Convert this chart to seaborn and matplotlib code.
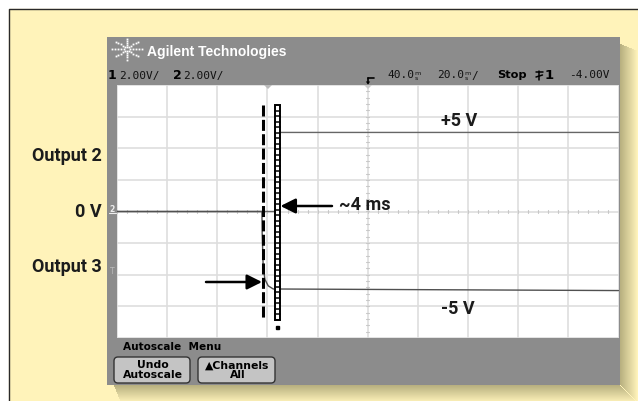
import numpy as np
import pandas as pd
import matplotlib
matplotlib.use("Agg")
import matplotlib.pyplot as plt
import seaborn as sns
from matplotlib.patches import Rectangle, FancyBboxPatch, Polygon

ch1_time_ms = [-60.0, 3.3, 4.9, 140.0]          # Output 2
ch1_volts = [0.0, 0.0, 5.0, 5.0]
ch2_time_ms = [-60.0, -2.2, -2.1, -1.7, -1.0, 0.3, 2.3, 140.0]   # Output 3
ch2_volts = [0.0, 0.0, -1.4, -3.5, -4.3, -4.7, -4.9, -5.0]

time_per_div_ms = 20.0
time_delay_ms = 40.0
volts_per_div = 2.0

side_labels = ["Output 2", "0 V", "Output 3"]
level_labels = ["+5 V", "-5 V"]
delta_label = "~4 ms"

# ---------------- style ----------------
sns.set_style("white")
plt.rcParams["font.family"] = ["DejaVu Sans"]
LABEL_FONT = ["Roboto", "DejaVu Sans"]
MONO = ["DejaVu Sans Mono"]

W, H = 638, 401
fig = plt.figure(figsize=(W / 100, H / 100), dpi=100)

CREAM = "#FFF3BA"
PANEL = "#8C8C8C"

# background axes in pixel coordinates
bg = fig.add_axes([0, 0, 1, 1], zorder=0)
bg.set_xlim(0, W)
bg.set_ylim(H, 0)
bg.axis("off")
bg.add_patch(Rectangle((0, 0), W, H, color="white"))
bg.add_patch(Rectangle((9, 8.5), W - 9, H - 8.5, color=CREAM))
bg.plot([9, 9, W], [H, 8.5, 8.5], color="#2a2a2a", lw=1.0)

# drop shadow (right and bottom)
sh_dark = np.array([0.72, 0.69, 0.50])
sh_light = np.array(matplotlib.colors.to_rgb(CREAM))
n = 18
for i in range(n):
    f = i / (n - 1)
    c = sh_dark * (1 - f) + sh_light * f
    bg.add_patch(Rectangle((620 + i, 44 + i * 0.4), 1.05, 385 - 44 + i * 0.6, color=c, lw=0))
    bg.add_patch(Rectangle((114 + i * 0.4, 385 + i), 620 - 114 + i * 0.6, 1.05, color=c, lw=0))

# scope panel
bg.add_patch(Rectangle((107, 37), 620 - 107, 385 - 37, color=PANEL, lw=0))

# Agilent spark logo
cx, cy = 127, 49
for ang in np.arange(0, 360, 45):
    a = np.deg2rad(ang)
    rx, ry = 15, 10.5
    for r in np.linspace(0.22, 1.0, 5):
        bg.plot(cx + rx * r * np.cos(a), cy + ry * r * np.sin(a), "s", ms=1.3, color="white", mew=0)
bg.text(147, 52, "Agilent Technologies", color="white", fontsize=10.0, fontweight="bold",
        va="center", ha="left", family=["Liberation Sans", "DejaVu Sans"])

# status line
row_y = 75.5
fs = 8.0
txt_c = "#111111"
bg.text(108, row_y, "1", fontsize=9, fontweight="bold", va="center", color="black")
bg.text(119, row_y, "2.00V/", fontsize=fs, va="center", color=txt_c, family=MONO)
bg.text(173, row_y, "2", fontsize=9, fontweight="bold", va="center", color="black")
bg.text(183, row_y, "2.00V/", fontsize=fs, va="center", color=txt_c, family=MONO)
# delay marker glyph
bg.plot([368, 374], [78.3, 78.3], color="black", lw=1.2)
bg.plot([368, 368], [78.3, 83], color="black", lw=1.2)
bg.add_patch(Polygon([[365.8, 81.5], [370.2, 81.5], [368, 84.5]], color="black", lw=0))
bg.text(387, row_y, "40.0", fontsize=fs, va="center", color=txt_c, family=MONO)
bg.text(414, row_y - 2.3, "m", fontsize=4.6, va="center", color=txt_c)
bg.text(415, row_y + 2.6, "s", fontsize=4.6, va="center", color=txt_c)
bg.text(437, row_y, "20.0", fontsize=fs, va="center", color=txt_c, family=MONO)
bg.text(464, row_y - 2.3, "m", fontsize=4.6, va="center", color=txt_c)
bg.text(465, row_y + 2.6, "s", fontsize=4.6, va="center", color=txt_c)
bg.text(471, row_y, "/", fontsize=fs, va="center", color=txt_c, family=MONO)
bg.text(497, row_y, "Stop", fontsize=8.2, fontweight="bold", va="center", color="black")
# trigger slope glyph
bg.plot([539, 539], [71, 80], color="black", lw=1.1)
bg.plot([536, 542.5], [71.5, 71.5], color="black", lw=1.1)
bg.plot([536, 542.5], [77, 75], color="black", lw=1.1)
bg.text(545, row_y, "1", fontsize=9.5, fontweight="bold", va="center", color="black")
bg.text(569, row_y, "-4.00V", fontsize=fs, va="center", color=txt_c, family=MONO)

# soft-key labels and buttons
bg.text(123, 346.5, "Autoscale  Menu", fontsize=7.6, fontweight="bold", va="center", color="black")
for (x0, x1), txt in zip([(113, 191), (197, 276)], ["Undo\nAutoscale", "\u25B2Channels\nAll"]):
    bg.add_patch(FancyBboxPatch((x0 + 1, 357), x1 - x0 - 2, 26, boxstyle="round,pad=0,rounding_size=4",
                                fc="#C4C4C4", ec="#333333", lw=1.0))
    bg.text((x0 + x1) / 2 + 1, 370, txt, fontsize=7.8, fontweight="bold", ha="center", va="center",
            color="black", linespacing=0.95)

# ground / trigger level markers on the left of the graticule
bg.text(112.5, 209, "2", fontsize=5.5, color="#EEEEEE", ha="center", va="center", fontweight="bold")
bg.plot([109, 116], [213, 213], color="#EEEEEE", lw=0.8)
bg.text(112.5, 271, "T", fontsize=5.5, color="#BBBBBB", ha="center", va="center")

# ---------------- graticule + traces (seaborn) ----------------
gx0, gx1, gy0, gy1 = 117, 618.5, 85, 338
ax = fig.add_axes([gx0 / W, 1 - gy1 / H, (gx1 - gx0) / W, (gy1 - gy0) / H], zorder=1)
ax.set_facecolor("white")
t_lo = time_delay_ms - 5 * time_per_div_ms
t_hi = time_delay_ms + 5 * time_per_div_ms
v_lo, v_hi = -4 * volts_per_div, 4 * volts_per_div
ax.set_xlim(t_lo, t_hi)
ax.set_ylim(v_lo, v_hi)
for s in ax.spines.values():
    s.set_visible(False)
ax.set_xticks(np.arange(t_lo, t_hi + 1e-6, time_per_div_ms))
ax.set_yticks(np.arange(v_lo, v_hi + 1e-6, volts_per_div))
ax.tick_params(length=0, labelbottom=False, labelleft=False)
ax.grid(True, color="#DEDEDE", lw=1.2)

# minor ticks on the centre lines
tick_v = 0.09
for t in np.arange(t_lo, t_hi + 1e-6, time_per_div_ms / 5):
    ax.plot([t, t], [-tick_v, tick_v], color="#C8C8C8", lw=0.8, zorder=1)
tick_t = 0.55
for v in np.arange(v_lo, v_hi + 1e-6, volts_per_div / 5):
    ax.plot([time_delay_ms - tick_t, time_delay_ms + tick_t], [v, v], color="#C8C8C8", lw=0.8, zorder=1)

df = pd.concat([
    pd.DataFrame({"time": ch1_time_ms, "volts": ch1_volts, "channel": "Output 2"}),
    pd.DataFrame({"time": ch2_time_ms, "volts": ch2_volts, "channel": "Output 3"}),
], ignore_index=True)
sns.lineplot(data=df, x="time", y="volts", hue="channel", estimator=None, sort=False,
             palette={"Output 2": "#666666", "Output 3": "#505050"}, lw=1.0, legend=False, ax=ax,
             zorder=3)
ax.set_xlabel("")
ax.set_ylabel("")

# overlay axes (pixel coordinates) for markers and annotations
ov = fig.add_axes([0, 0, 1, 1], zorder=2)
ov.set_xlim(0, W)
ov.set_ylim(H, 0)
ov.axis("off")
ov.patch.set_alpha(0)
ov.add_patch(Polygon([[264, 85], [272, 85], [268, 89]], color="#BBBBBB", lw=0))
ov.add_patch(Polygon([[364, 85], [372, 85], [368, 89]], color="#CCCCCC", lw=0))

# ---------------- annotations ----------------
ov.plot([263, 263], [105, 318], color="black", lw=2.2, dashes=(3.6, 1.1))
ov.add_patch(Rectangle((274.5, 105), 5.5, 215, fc="white", ec="black", lw=1.4, zorder=5))
for yy in np.arange(110.5, 320, 5.5):
    ov.plot([274.5, 280], [yy, yy], color="black", lw=1.1, zorder=6)
ov.add_patch(Rectangle((275.8, 325.5), 3, 3, color="black", zorder=6))

arrow_kw = dict(arrowstyle="-|>,head_length=0.9,head_width=0.45", color="black", lw=1.8,
                shrinkA=0, shrinkB=0)
ov.annotate("", xy=(280.5, 206), xytext=(332, 206), arrowprops=arrow_kw)
ov.annotate("", xy=(262, 282), xytext=(206, 282), arrowprops=arrow_kw)

lab_kw = dict(fontsize=13, fontweight="bold", color="#1c1c1c", family=LABEL_FONT, va="center")
ov.text(339, 205, delta_label, ha="left", **lab_kw)
ov.text(441, 121, level_labels[0], ha="left", **lab_kw)
ov.text(441, 309, level_labels[1], ha="left", **lab_kw)
ov.text(102, 156, side_labels[0], ha="right", **lab_kw)
ov.text(102, 212, side_labels[1], ha="right", **lab_kw)
ov.text(102, 267, side_labels[2], ha="right", **lab_kw)

fig.savefig("out.png", dpi=100)
